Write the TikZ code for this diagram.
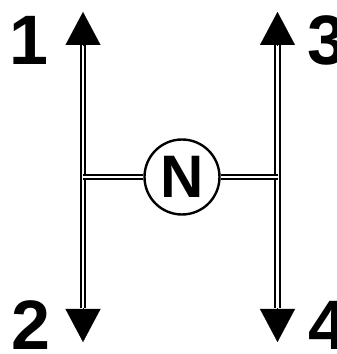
\documentclass[tikz,border=0pt]{standalone}
\usepackage{fontspec}
\setmainfont{Liberation Sans}
\usetikzlibrary{arrows.meta}

\tikzset{
  shaft/.style={double, line width=2.1pt, double distance=2.2pt},
  head/.style={-{Triangle[width=35pt,length=33pt]}, line width=0.1pt},
  gearno/.style={font=\bfseries\fontsize{70}{70}\selectfont, inner sep=0pt},
}

\begin{document}
\begin{tikzpicture}[x=1pt,y=1pt]
        \useasboundingbox (0,0) rectangle (337,354);
        % arrow bases and tips
        \coordinate (base1) at (83,309);
        \coordinate (tip1) at (83,342);
        \coordinate (base2) at (83,46);
        \coordinate (tip2) at (83,12);
        \coordinate (base3) at (277.5,309);
        \coordinate (tip3) at (277.5,342);
        \coordinate (base4) at (277.5,46);
        \coordinate (tip4) at (277.5,12);
        \coordinate (left) at (83,177);
        \coordinate (right) at (277.5,177);
        \node[circle, draw, line width=2.4pt, minimum size=75pt, inner sep=0pt,
              font=\bfseries\fontsize{60}{60}\selectfont] (neutral) at (182,177) {N};
        % shafts
        \draw[shaft] (base2) -- (base1);
        \draw[shaft] (base4) -- (base3);
        \draw[shaft] (left) -- (neutral);
        \draw[shaft] (neutral) -- (right);
        \draw[head] (base1) -- (tip1);
        \draw[head] (base2) -- (tip2);
        \draw[head] (base3) -- (tip3);
        \draw[head] (base4) -- (tip4);
        % gear numbers
        \node[gearno] (g1) at (28.5,314) {1};
        \node[gearno] (g2) at (31,29) {2};
        \node[gearno] (g3) at (327,314) {3};
        \node[gearno] (g4) at (328,29) {4};
\end{tikzpicture}
\end{document}
